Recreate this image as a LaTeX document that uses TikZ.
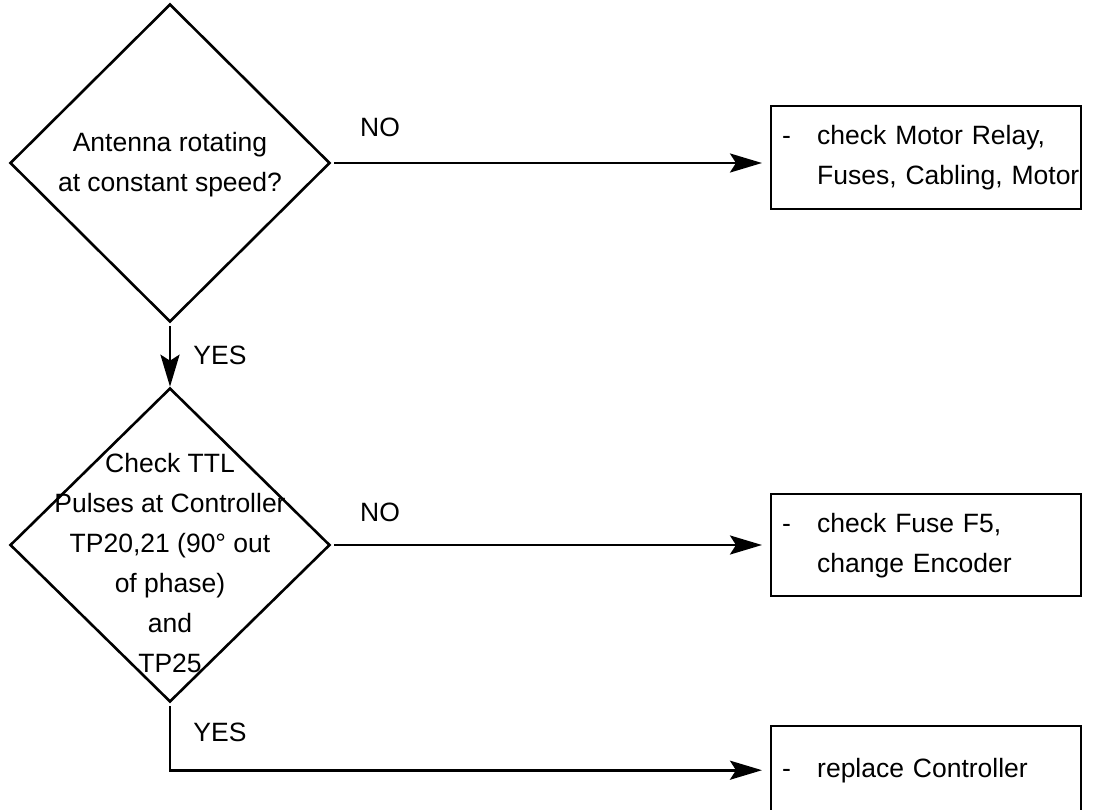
\documentclass[tikz,border=0pt]{standalone}
\usepackage{fontspec}
\setmainfont{Liberation Sans}
\usetikzlibrary{arrows.meta,shapes.geometric}
\begin{document}
\begin{tikzpicture}[x=1pt,y=-1pt,
  every node/.style={font=\fontsize{26.5}{40}\selectfont},
  decision/.style={draw, shape=diamond, line width=2.6pt, inner sep=0pt, minimum width=320pt},
  action/.style={draw, rectangle, line width=2.4pt, inner xsep=0pt, inner ysep=0pt,
                 text width=310pt, align=left, anchor=north west},
  flow/.style={line width=2.8pt, -{Stealth[length=32pt,width=19pt,inset=6pt]}},
  tag/.style={inner sep=0pt}
]
\useasboundingbox (0,0) rectangle (1097,809);
\clip (0,0) rectangle (1097,809);

% decisions
\node[decision, minimum height=318pt,
      label={[align=center, yshift=-2pt]center:{Antenna rotating\\at constant speed?}}] (d1) at (170,163) {};
\node[decision, minimum height=314pt,
      label={[align=center, yshift=-18pt]center:{Check TTL\\Pulses at Controller\\TP20,21 (90° out\\of phase)\\and\\TP25}}] (d2) at (170,545) {};

% actions
\node[action, minimum height=103pt] (b1) at (770,105)
  {\hspace*{11pt}\makebox[35pt][l]{-}check Motor Relay,\\\hspace*{46pt}Fuses, Cabling, Motor};
\node[action, minimum height=102pt] (b2) at (770,493)
  {\hspace*{11pt}\makebox[35pt][l]{-}check Fuse F5,\\\hspace*{46pt}change Encoder};
\node[action, minimum height=88pt] (b3) at (770,725)
  {\hspace*{11pt}\makebox[35pt][l]{-}replace Controller};

% connectors
\draw[flow, shorten <=3pt, shorten >=8pt] (d1.east) -- (d1.east -| b1.west);
\draw[flow, shorten <=3pt] (d1.south) -- (d2.north);
\draw[flow, shorten <=3pt, shorten >=8pt] (d2.east) -- (d2.east -| b2.west);
\draw[flow, shorten <=3pt, shorten >=8pt] (d2.south) |- (b3.west);

% branch labels
\node[tag] (no1) at (380,127) {NO};
\node[tag] (yes1) at (220,355) {YES};
\node[tag] (no2) at (380,512) {NO};
\node[tag] (yes2) at (220,732) {YES};
\end{tikzpicture}
\end{document}
